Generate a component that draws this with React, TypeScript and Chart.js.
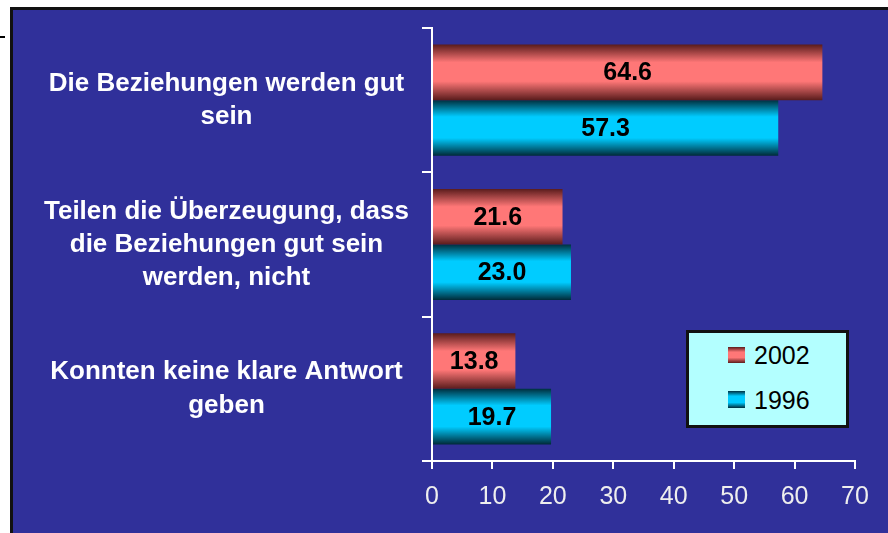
import React, { useEffect, useRef } from "react";
import { Chart, registerables } from "chart.js";

Chart.register(...registerables);

// ---- data ----
const categories: string[][] = [
  ["Die Beziehungen werden gut", "sein"],
  ["Teilen die Überzeugung, dass", "die Beziehungen gut sein", "werden, nicht"],
  ["Konnten keine klare Antwort", "geben"],
];
const seriesNames = ["2002", "1996"];
const values2002 = [64.6, 21.6, 13.8];
const values1996 = [57.3, 23.0, 19.7];
const xMin = 0;
const xMax = 70;
const xStep = 10;

const FONT = '"Liberation Sans", Arial, Helvetica, sans-serif';
const CAT_PCT = 0.77;
const BG = "#30309a";

const redStops: [number, string][] = [
  [0, "#5a1c1c"],
  [0.32, "#ff7777"],
  [0.66, "#ff7777"],
  [1, "#5a1c1c"],
];
const cyanStops: [number, string][] = [
  [0, "#00303f"],
  [0.3, "#00ccff"],
  [0.68, "#00ccff"],
  [1, "#002a38"],
];

function gradFor(stops: [number, string][], dsIndex: number) {
  return (ctx: any) => {
    const chart = ctx.chart;
    const y = chart.scales && chart.scales.y;
    if (!y || ctx.dataIndex == null || !chart.chartArea) return stops[1][1];
    const center = y.getPixelForValue(ctx.dataIndex);
    const cat = (y.bottom - y.top) / categories.length;
    const bar = (cat * CAT_PCT) / 2;
    const top = dsIndex === 0 ? center - bar : center;
    const g = chart.ctx.createLinearGradient(0, top, 0, top + bar);
    stops.forEach(([o, c]) => g.addColorStop(o, c));
    return g;
  };
}

const valueLabels = {
  id: "valueLabels",
  afterDatasetsDraw(chart: any) {
    const c = chart.ctx;
    c.save();
    c.font = `bold 25px ${FONT}`;
    c.fillStyle = "#000";
    c.textAlign = "center";
    c.textBaseline = "middle";
    chart.data.datasets.forEach((ds: any, di: number) => {
      chart.getDatasetMeta(di).data.forEach((el: any, i: number) => {
        const v = ds.data[i];
        const { x, y, base } = el.getProps(["x", "y", "base"], true);
        c.fillText(Number(v).toFixed(1), (x + base) / 2, y + 1);
      });
    });
    c.restore();
  },
};

function swatch(stops: [number, string][]) {
  return `linear-gradient(to bottom, ${stops
    .map(([o, c]) => `${c} ${Math.round(o * 100)}%`)
    .join(", ")})`;
}

export default function App() {
  const ref = useRef<HTMLCanvasElement>(null);
  useEffect(() => {
    const chart = new Chart(ref.current!, {
      type: "bar",
      data: {
        labels: categories as any,
        datasets: [
          {
            label: seriesNames[0],
            data: values2002,
            backgroundColor: gradFor(redStops, 0) as any,
            borderWidth: 0,
            categoryPercentage: CAT_PCT,
            barPercentage: 1,
          },
          {
            label: seriesNames[1],
            data: values1996,
            backgroundColor: gradFor(cyanStops, 1) as any,
            borderWidth: 0,
            categoryPercentage: CAT_PCT,
            barPercentage: 1,
          },
        ],
      },
      options: {
        indexAxis: "y",
        responsive: false,
        animation: false,
        devicePixelRatio: 1,
        layout: { padding: { left: 0, top: 18, right: 33, bottom: 8 } },
        plugins: {
          legend: { display: false },
          tooltip: { enabled: false },
        },
        scales: {
          x: {
            type: "linear",
            min: xMin,
            max: xMax,
            ticks: {
              stepSize: xStep,
              color: "#eeeeee",
              font: { family: FONT, size: 25 },
              padding: 13,
            },
            grid: {
              drawOnChartArea: false,
              drawTicks: true,
              tickLength: 8,
              color: "#ffffff",
              lineWidth: 2,
            },
            border: { display: true, color: "#ffffff", width: 2 },
          },
          y: {
            type: "category",
            afterFit: (s: any) => {
              s.width = 419;
              s.paddingTop = 0;
              s.paddingBottom = 0;
            },
            ticks: {
              color: "#ffffff",
              font: { family: FONT, size: 26, weight: "bold", lineHeight: 1.27 },
              crossAlign: "center",
              padding: 13,
              autoSkip: false,
            },
            grid: {
              offset: true,
              drawOnChartArea: false,
              drawTicks: true,
              tickLength: 10,
              color: "#ffffff",
              lineWidth: 2,
            },
            border: { display: true, color: "#ffffff", width: 2 },
          },
        },
      },
      plugins: [valueLabels],
    } as any);
    return () => chart.destroy();
  }, []);

  const legendText: React.CSSProperties = {
    position: "absolute",
    left: 65,
    fontFamily: FONT,
    fontSize: 25,
    color: "#000",
    lineHeight: "28px",
  };

  return (
    <div
      style={{
        position: "fixed",
        left: 0,
        top: 0,
        width: 888,
        height: 533,
        overflow: "hidden",
        background: "#ffffff",
      }}
    >
      <div style={{ position: "absolute", left: 0, top: 36, width: 5, height: 2, background: "#000" }} />
      <div
        style={{
          position: "absolute",
          left: 10,
          top: 7,
          width: 900,
          height: 600,
          background: BG,
          borderTop: "3px solid #111",
          borderLeft: "3px solid #111",
          boxSizing: "border-box",
        }}
      >
        <canvas
          ref={ref}
          width={875}
          height={523}
          style={{ position: "absolute", left: 0, top: 0, width: 875, height: 523 }}
        />
      </div>
      <div
        style={{
          position: "absolute",
          left: 686,
          top: 330,
          width: 163,
          height: 98,
          boxSizing: "border-box",
          border: "3px solid #111",
          background: "#b3ffff",
        }}
      >
        <div style={{ position: "absolute", left: 39, top: 14, width: 17, height: 16, background: swatch(redStops) }} />
        <div style={{ ...legendText, top: 8 }}>{seriesNames[0]}</div>
        <div style={{ position: "absolute", left: 39, top: 58, width: 17, height: 17, background: swatch(cyanStops) }} />
        <div style={{ ...legendText, top: 53 }}>{seriesNames[1]}</div>
      </div>
    </div>
  );
}
